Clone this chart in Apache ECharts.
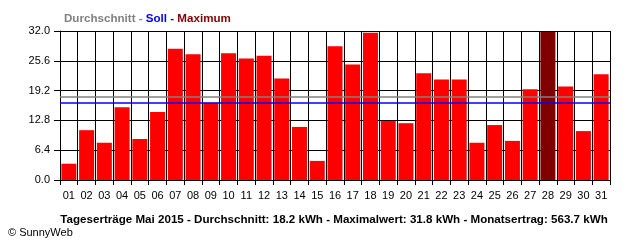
<!DOCTYPE html>
<html>
<head>
<meta charset="utf-8">
<script src="https://cdn.jsdelivr.net/npm/echarts@6/dist/echarts.min.js"></script>
<style>html,body{margin:0;padding:0;background:#fff}#c{width:640px;height:240px}</style>
</head>
<body>
<div id="c"></div>
<script>
const days = ['01','02','03','04','05','06','07','08','09','10','11','12','13','14','15','16','17','18','19','20','21','22','23','24','25','26','27','28','29','30','31'];
const dailyYield = [3.5,10.7,8.0,15.6,8.8,14.6,28.2,27.0,16.6,27.2,26.1,26.7,21.8,11.4,4.1,28.7,24.8,31.6,12.7,12.2,22.9,21.6,21.6,8.0,11.8,8.4,19.5,31.8,20.1,10.5,22.7];
const maxDayIndex = 27;
const averageValue = 17.9;
const targetValue = 16.6;
const yTicks = [0, 6.4, 12.8, 19.2, 25.6, 32.0];
const footerText = 'Tageserträge Mai 2015 - Durchschnitt: 18.2 kWh - Maximalwert: 31.8 kWh - Monatsertrag: 563.7 kWh';

const chart = echarts.init(document.getElementById('c'), null, {renderer: 'canvas'});
const font = 'Liberation Sans';
const fs = 11.6;
chart.setOption({
  animation: false,
  backgroundColor: '#fff',
  title: [
    {
      left: 59, top: 8,
      text: '{a|Durchschnitt - }{b|Soll - }{c|Maximum}',
      textStyle: {
        fontFamily: font, fontSize: fs, fontWeight: 'bold',
        rich: {
          a: {color: '#808080', fontFamily: font, fontSize: fs, fontWeight: 'bold'},
          b: {color: '#0000ff', fontFamily: font, fontSize: fs, fontWeight: 'bold'},
          c: {color: '#800000', fontFamily: font, fontSize: fs, fontWeight: 'bold'}
        }
      }
    },
    {
      left: 329, textAlign: 'center', top: 209,
      text: footerText,
      textStyle: {fontFamily: font, fontSize: fs, fontWeight: 'bold', color: '#000'}
    },
    {
      left: 3, top: 222,
      text: '© SunnyWeb',
      textStyle: {fontFamily: font, fontSize: 11, fontWeight: 'normal', color: '#000'}
    }
  ],
  grid: {left: 60, right: 30, top: 31, bottom: 60},
  xAxis: {
    type: 'category',
    data: days,
    boundaryGap: true,
    axisLine: {show: true, lineStyle: {color: '#000', width: 1}},
    axisTick: {show: true, length: 5, lineStyle: {color: '#000'}},
    axisLabel: {color: '#000', fontFamily: font, fontSize: 11, margin: 10, interval: 0},
    splitLine: {show: true, interval: 0, lineStyle: {color: '#000', width: 1}}
  },
  yAxis: {
    type: 'value',
    min: 0, max: 32, interval: 6.4,
    axisLine: {show: true, lineStyle: {color: '#000'}},
    axisTick: {show: true, length: 6, lineStyle: {color: '#000'}},
    axisLabel: {color: '#000', fontFamily: font, fontSize: 11, margin: 10,
      formatter: v => yTicks.find(t => Math.abs(t - v) < 1e-6).toFixed(1)},
    splitLine: {show: true, lineStyle: {color: '#000', width: 1}}
  },
  series: [{
    type: 'bar',
    data: dailyYield.map((v, i) => ({value: v, itemStyle: {color: i === maxDayIndex ? '#800000' : '#ff0000'}})),
    barWidth: 15,
    z: 3,
    markLine: {
      silent: true,
      symbol: 'none',
      label: {show: false},
      z: 5,
      data: [
        {yAxis: averageValue, lineStyle: {color: '#808080', width: 1.5, type: 'solid'}},
        {yAxis: targetValue, lineStyle: {color: '#0000ff', width: 1.5, type: 'solid'}}
      ]
    }
  }]
});
</script>
</body>
</html>
